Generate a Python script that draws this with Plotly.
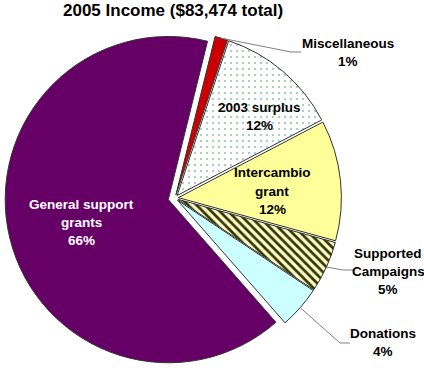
import math
import plotly.graph_objects as go

# ---- data ----
categories = ["Miscellaneous", "2003 surplus", "Intercambio grant",
              "Supported Campaigns", "Donations", "General support grants"]
values = [1050, 10200, 9950, 4250, 3500, 54524]          # dollars, total 83,474
pct_labels = ["1%", "12%", "12%", "5%", "4%", "66%"]
label_lines = [["Miscellaneous"], ["2003 surplus"], ["Intercambio", "grant"],
               ["Supported", "Campaigns"], ["Donations"], ["General support", "grants"]]

# ---- styles ----
W, H = 424, 368
colors = ["#CC0000", "#FFFFFF", "#FFFF99", "#FFFFCC", "#CCFFFF", "#660066"]
pattern_shapes = ["", ".", "", "\\", "", ""]
pattern_fg = ["#CC0000", "#3C9A6A", "#FFFF99", "#333300", "#CCFFFF", "#660066"]
pulls = [0.02, 0.02, 0.02, 0.02, 0.02, 0.042]
rotation = 13.9
FONT = "Liberation Sans, Arial, sans-serif"

# pie box (pixels)
cx, cy, half = 175, 198, 170
dom_x = [(cx - half) / W, (cx + half) / W]
dom_y = [max(0.0, 1 - (cy + half) / H), 1 - (cy - half) / H]
r = half / (1 + max(pulls))

fig = go.Figure(go.Pie(
    labels=categories, values=values, sort=False, direction="clockwise",
    rotation=rotation, pull=pulls, textinfo="none", hoverinfo="skip",
    domain=dict(x=dom_x, y=dom_y),
    marker=dict(colors=colors, line=dict(color="#333333", width=1),
                pattern=dict(shape=pattern_shapes, fgcolor=pattern_fg,
                             bgcolor=colors, size=[6, 6, 6, 6, 6, 6],
                             solidity=[0.3, 0.06, 0.3, 0.45, 0.3, 0.3],
                             fillmode="replace")),
    showlegend=False,
))

# label placement (pixel centers of first line), text colors, leader line ends
label_pos = [(348, 43), (259, 107), (272, 173), (388, 253), (383, 333), (81, 204)]
label_color = ["black", "black", "black", "black", "black", "white"]
leader_end = [(301, 52), None, None, (353, 270), (350, 343), None]
LINE = 18.3

annotations = [dict(text="<b>2005 Income ($83,474 total)</b>", x=173 / W, y=1 - 10 / H,
                    xref="paper", yref="paper", showarrow=False,
                    font=dict(family=FONT, size=17, color="black"),
                    xanchor="center", yanchor="middle")]
shapes = []
total = sum(values)
start = rotation
for i, cat in enumerate(categories):
    ang = values[i] / total * 360
    mid = math.radians(start + ang / 2)
    start += ang
    lines = label_lines[i] + [pct_labels[i]]
    lx, ly = label_pos[i]
    for k, t in enumerate(lines):
        annotations.append(dict(text="<b>%s</b>" % t, x=lx / W, y=1 - (ly + k * LINE) / H,
                                xref="paper", yref="paper", showarrow=False,
                                font=dict(family=FONT, size=13.5, color=label_color[i]),
                                xanchor="center", yanchor="middle"))
    if leader_end[i] is not None:
        rr = r * (1 + pulls[i])
        px0 = cx + rr * math.sin(mid)
        py0 = cy - rr * math.cos(mid)
        ex, ey = leader_end[i]
        kx = ex - 10
        path = "M %f,%f L %f,%f L %f,%f" % (px0 / W, 1 - py0 / H, kx / W, 1 - ey / H,
                                            ex / W, 1 - ey / H)
        shapes.append(dict(type="path", path=path, xref="paper", yref="paper",
                           line=dict(color="#808080", width=1)))

fig.update_layout(width=W, height=H, margin=dict(l=0, r=0, t=0, b=0),
                  paper_bgcolor="white", plot_bgcolor="white",
                  annotations=annotations, shapes=shapes)
fig.write_html("out.html", config={"displayModeBar": False},
               post_script="document.body.style.margin='0';document.body.style.overflow='hidden';")
